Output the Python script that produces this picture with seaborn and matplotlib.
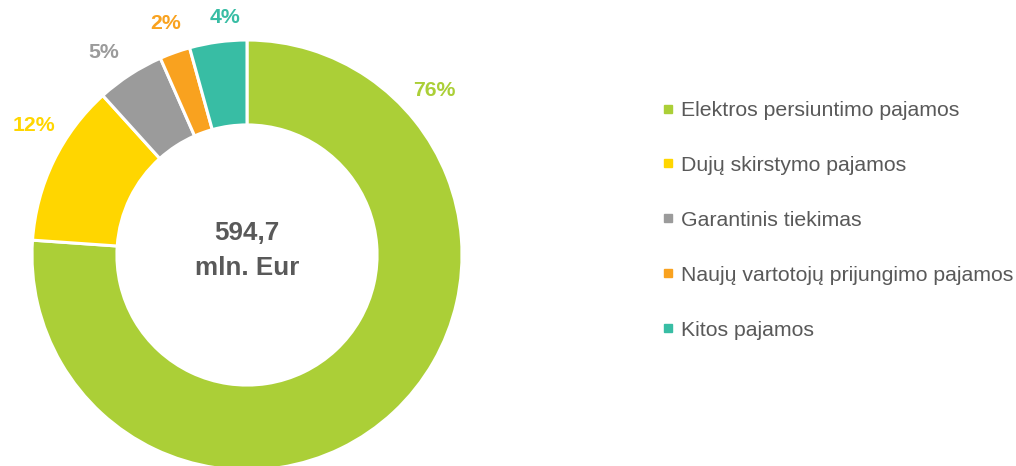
import matplotlib
matplotlib.use("Agg")
import matplotlib.pyplot as plt
from matplotlib.lines import Line2D
import numpy as np
import seaborn as sns

categories = ["Elektros persiuntimo pajamos", "Dujų skirstymo pajamos",
              "Garantinis tiekimas", "Naujų vartotojų prijungimo pajamos",
              "Kitos pajamos"]
values = [76.1, 12.2, 5.1, 2.3, 4.3]
pct_labels = ["76%", "12%", "5%", "2%", "4%"]
colors = ["#ABCF37", "#FFD600", "#9B9B9B", "#F9A21F", "#38BDA4"]
center_text = "594,7\nmln. Eur"

# label placement (layout): angle offset from wedge middle (deg) and radius
label_angle_shift = [88.3, -5.4, 2.3, -0.3, -2.5]
label_radius = [1.16, 1.16, 1.155, 1.14, 1.11]

sns.set_theme(style="white")
plt.rcParams['font.family'] = ['Liberation Sans', 'DejaVu Sans']
text_color = "#595959"

fig = plt.figure(figsize=(10.16, 4.66), dpi=100)
ax = fig.add_axes([32/1016, -4/466, 430/1016, 430/466])
wedges, _ = ax.pie(values, colors=colors, startangle=90, counterclock=False,
                   radius=1.0, wedgeprops=dict(width=0.395, edgecolor="white", linewidth=2.2))
ax.set_xlim(-1, 1)
ax.set_ylim(-1, 1)
ax.set_aspect("equal")
ax.axis("off")

for w, lab, c, da, r in zip(wedges, pct_labels, colors, label_angle_shift, label_radius):
    ang = (w.theta1 + w.theta2) / 2.0 + da
    x, y = r * np.cos(np.radians(ang)), r * np.sin(np.radians(ang))
    ax.text(x, y, lab, ha="center", va="center", color=c, fontsize=15.3,
            fontweight="bold", clip_on=False)

ax.text(0, 0.02, center_text, ha="center", va="center", color=text_color,
        fontsize=18.7, fontweight="bold", linespacing=1.6)

handles = [Line2D([0], [0], marker="s", linestyle="none", markersize=5.2,
                  markerfacecolor=c, markeredgecolor=c) for c in colors]
leg = fig.legend(handles, categories, loc="upper left",
                 bbox_to_anchor=(663/1016, 1 - 101/466), frameon=False,
                 fontsize=15.3, labelspacing=1.69, handlelength=0.5,
                 handletextpad=0.35, borderaxespad=0, borderpad=0)
for t in leg.get_texts():
    t.set_color(text_color)

fig.savefig("out.png", dpi=100)
